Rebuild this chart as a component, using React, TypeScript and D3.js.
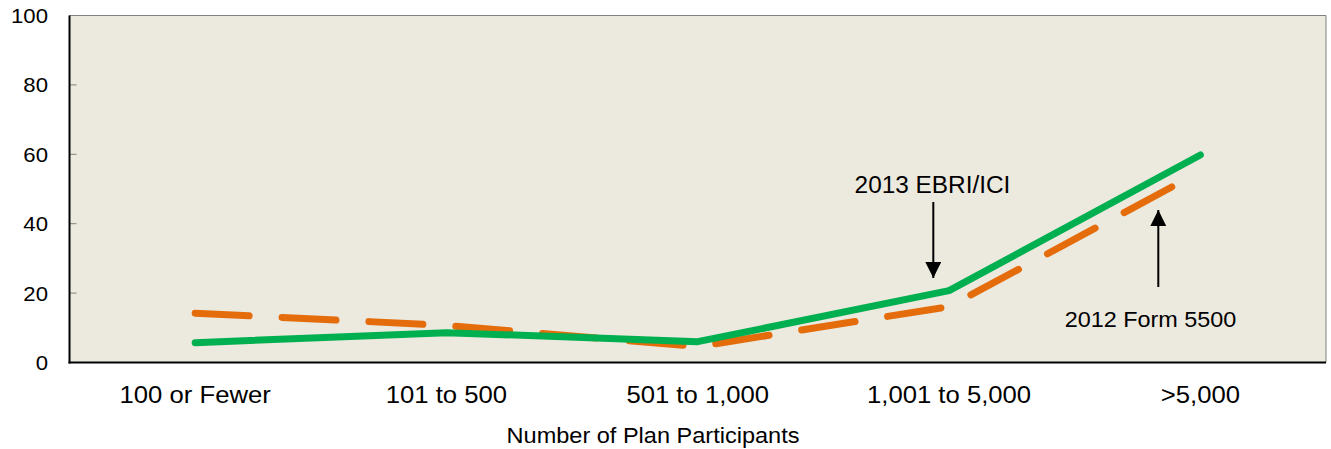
import React from "react";
import * as d3 from "d3";

const categories = ["100 or Fewer", "101 to 500", "501 to 1,000", "1,001 to 5,000", ">5,000"];
const ebriIci2013 = [5.7, 8.6, 6.0, 20.7, 59.8];
const form5500_2012 = [14.2, 10.7, 4.6, 16.1, 55.0];
const yTicks = [0, 20, 40, 60, 80, 100];

const W = 1331;
const H = 449;
const M = { left: 69.5, right: 1326, top: 15.5, bottom: 362.5 };
const FONT = "Liberation Sans, Arial, sans-serif";

function T({ x, y, size, sx = 1.08, anchor = "middle", children }: any) {
  return (
    <text
      transform={`translate(${x},${y}) scale(${sx},1)`}
      fontSize={size}
      fontFamily={FONT}
      textAnchor={anchor}
      fill="#000"
    >
      {children}
    </text>
  );
}

export default function App() {
  const x = d3.scaleBand<string>().domain(categories).range([M.left, M.right]);
  const y = d3.scaleLinear().domain([0, 100]).range([M.bottom, M.top]);
  const cx = (c: string) => (x(c) as number) + x.bandwidth() / 2;
  const line = d3
    .line<number>()
    .x((_, i) => cx(categories[i]))
    .y((d) => y(d));

  const a1x = 933.3;
  const a2x = 1158.3;

  return (
    <svg
      width={W}
      height={H}
      style={{ position: "absolute", left: 0, top: 0, display: "block" }}
    >
      <defs>
        <marker id="ah" viewBox="0 0 10 10" refX="10" refY="5" markerWidth="8" markerHeight="8" markerUnits="strokeWidth" orient="auto">
          <path d="M0,0 L10,5 L0,10 z" fill="#000" />
        </marker>
      </defs>
      <rect x={M.left} y={M.top} width={M.right - M.left} height={M.bottom - M.top} fill="#ECE9DF" />
      <line x1={M.left} y1={M.top} x2={M.right} y2={M.top} stroke="#808080" strokeWidth={1} />
      <line x1={M.right} y1={M.top} x2={M.right} y2={M.bottom} stroke="#808080" strokeWidth={1} />
      {yTicks.map((t) => (
        <g key={t}>
          {t !== 0 && (
            <line x1={M.left} x2={M.left + 7} y1={y(t)} y2={y(t)} stroke="#808080" strokeWidth={1} />
          )}
          <T x={48} y={y(t) + 7.5} size={20.5} sx={1.08} anchor="end">
            {t}
          </T>
        </g>
      ))}
      <path
        d={line(form5500_2012) || ""}
        fill="none"
        stroke="#E46C0A"
        strokeWidth={7}
        strokeLinecap="round"
        strokeLinejoin="round"
        strokeDasharray="54,33"
      />
      <path
        d={line(ebriIci2013) || ""}
        fill="none"
        stroke="#00B050"
        strokeWidth={7}
        strokeLinecap="round"
        strokeLinejoin="round"
      />
      <line x1={M.left} y1={M.top} x2={M.left} y2={M.bottom + 1} stroke="#000" strokeWidth={2} />
      <line x1={M.left - 1} y1={M.bottom} x2={M.right} y2={M.bottom} stroke="#000" strokeWidth={2} />
      {categories.map((c) => (
        <T key={c} x={cx(c)} y={403} size={24} sx={1.07}>
          {c}
        </T>
      ))}
      <T x={653} y={443} size={22} sx={1.07}>
        Number of Plan Participants
      </T>
      <T x={932.5} y={193} size={23} sx={1.06}>
        2013 EBRI/ICI
      </T>
      <line x1={a1x} x2={a1x} y1={202} y2={278} stroke="#000" strokeWidth={2} markerEnd="url(#ah)" />
      <T x={1150.5} y={326.5} size={22.5} sx={1.04}>
        2012 Form 5500
      </T>
      <line x1={a2x} x2={a2x} y1={287} y2={210} stroke="#000" strokeWidth={2} markerEnd="url(#ah)" />
    </svg>
  );
}
